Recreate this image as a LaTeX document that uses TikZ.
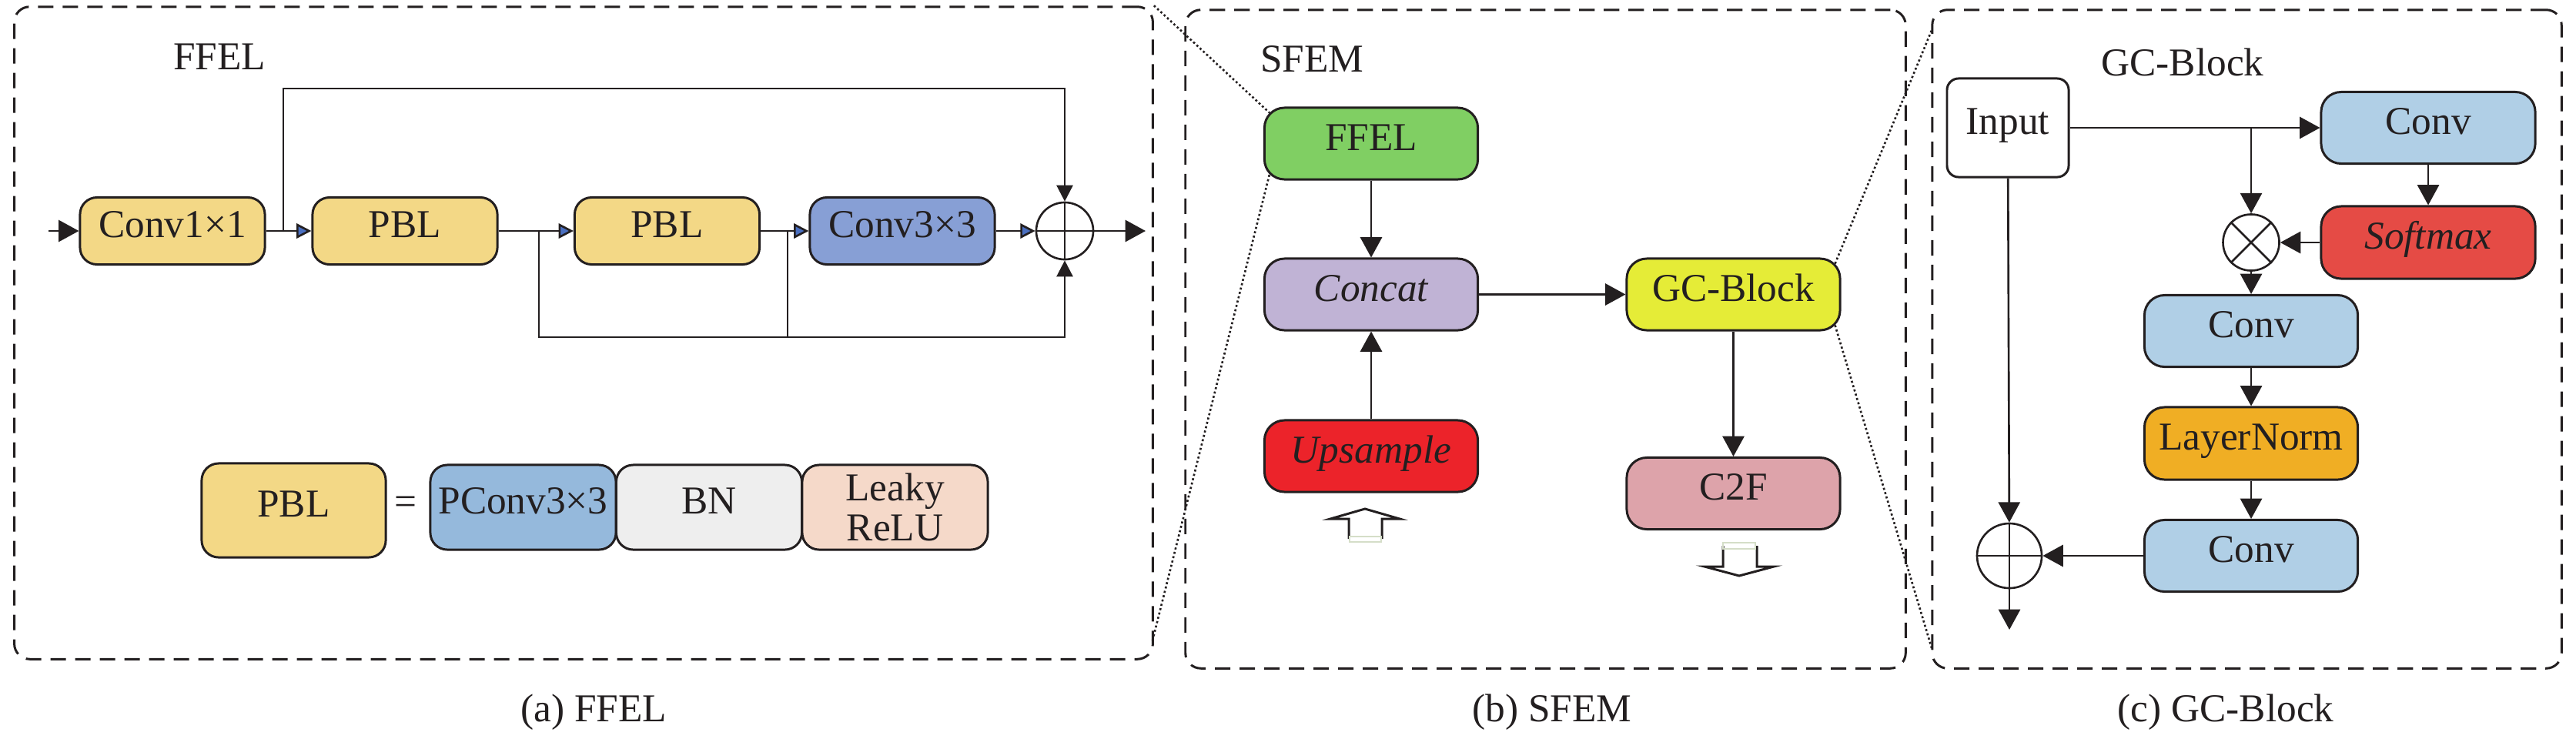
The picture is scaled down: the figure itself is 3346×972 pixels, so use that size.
\documentclass[tikz,border=0pt]{standalone}
\usepackage{fontspec}
\setmainfont{Liberation Serif}
\usetikzlibrary{arrows.meta,calc}
\definecolor{cyel}{HTML}{F3D886}
\definecolor{cblue}{HTML}{879FD5}
\definecolor{cpconv}{HTML}{95B9DC}
\definecolor{cbn}{HTML}{EEEEEE}
\definecolor{crelu}{HTML}{F5D9C9}
\definecolor{cgreen}{HTML}{80CF63}
\definecolor{cconcat}{HTML}{C0B3D5}
\definecolor{cups}{HTML}{EC232A}
\definecolor{cgc}{HTML}{E5EC37}
\definecolor{cctwof}{HTML}{DDA3AA}
\definecolor{cconv}{HTML}{B0CFE6}
\definecolor{csoft}{HTML}{E54B45}
\definecolor{cln}{HTML}{F0AE24}
\definecolor{carr}{HTML}{4A6FC0}
\definecolor{cpale}{HTML}{D5DEC8}
\definecolor{cline}{HTML}{231F20}
\begin{document}
\begin{tikzpicture}[x=0.01cm,y=-0.01cm,
  every node/.style={font=\fontsize{14.6pt}{15pt}\selectfont, text=cline},
  base/.style={draw=cline, line width=0.85pt, inner sep=0pt, align=center},
  tc/.style={text height=0.72em, text depth=0.22em},
  blk/.style={base, tc, rounded corners=0.26cm, minimum width=2.77cm, minimum height=0.93cm},
  ablk/.style={base, tc, rounded corners=0.22cm, minimum width=2.40cm, minimum height=0.87cm},
  lblk/.style={base, rounded corners=0.22cm, minimum width=2.41cm, minimum height=1.10cm},
  panel/.style={draw=cline, line width=0.85pt, dash pattern=on 5.7pt off 3.4pt, rounded corners=0.2cm, inner sep=0pt},
  con/.style={draw=cline, line width=0.75pt},
  arr/.style={con, -{Triangle[width=8pt,length=7.5pt]}},
  sarr/.style={con, -{Triangle[width=6pt,length=6pt]}},
  barr/.style={con, -{Triangle[width=5.5pt,length=5.5pt,fill=carr]}},
  dotl/.style={draw=cline, line width=0.75pt, dash pattern=on 0.75pt off 0.9pt},
  opc/.style={circle, draw=cline, line width=0.75pt, inner sep=0pt},
  hollow/.style={draw=cline, line width=0.85pt},
]
\useasboundingbox (0,0) rectangle (3346,972);

% panels
\node[panel, minimum width=14.78cm, minimum height=8.47cm] (pa) at (758,432.5) {};
\node[panel, minimum width=9.35cm, minimum height=8.55cm] (pb) at (2007.5,440.5) {};
\node[panel, minimum width=8.17cm, minimum height=8.55cm] (pc) at (2918.5,440.5) {};

% ---------- (a) FFEL ----------
\node[anchor=base west] (tffel) at (213,90) {FFEL};
\node[ablk, fill=cyel] (c11) at (224,300) {Conv1×1};
\node[ablk, fill=cyel] (pbl1) at (526,300) {PBL};
\node[ablk, fill=cyel] (pbl2) at (866.5,300) {PBL};
\node[ablk, fill=cblue] (c33) at (1172,300) {Conv3×3};
\node[opc, minimum size=0.74cm] (sum) at (1383,300) {};
\draw[con] (sum.north) -- (sum.south);
\draw[con] (sum.west) -- (sum.east);
\coordinate (ina) at (63,300);
\coordinate (outa) at (1488,300);
\draw[arr] (ina) -- (c11);
\draw[arr] (sum.east) -- (outa);
\draw[barr] (c11) -- (pbl1);
\draw[barr] (pbl1) -- (pbl2);
\draw[barr] (pbl2) -- (c33);
\draw[barr] (c33) -- (sum);
\coordinate (b1) at (368,300);
\coordinate (b2) at (368,115);
\draw[sarr] (b1) -- (b2) -| (sum.north);
\coordinate (s1) at (700,300);
\coordinate (s2) at (700,438);
\coordinate (s3) at (1023,300);
\coordinate (s4) at (1023,438);
\draw[sarr] (s1) -- (s2) -| (sum.south);
\draw[con] (s3) -- (s4);

% legend
\node[lblk, fill=cyel, minimum width=2.39cm, minimum height=1.22cm, tc] (lpbl) at (381.5,663) {PBL};
\node (eq) at (527,657) {=};
\node[lblk, fill=cpconv, tc] (lpc) at (679.5,659) {PConv3×3};
\node[lblk, fill=cbn, tc] (lbn) at (921,659) {BN};
\node[lblk, fill=crelu] (llr) at (1162.5,659) {Leaky\\ReLU};
\node[anchor=base] (capa) at (771,937) {(a) FFEL};

% ---------- (b) SFEM ----------
\node[anchor=base west] (tsfem) at (1625,93) {SFEM};
\node[blk, fill=cgreen] (ffel) at (1781,186.5) {FFEL};
\node[blk, fill=cconcat] (concat) at (1781,382.5) {\itshape Concat};
\node[blk, fill=cups] (ups) at (1781,592.5) {\itshape Upsample};
\node[blk, fill=cgc] (gcb) at (2251.5,382.5) {GC-Block};
\node[blk, fill=cctwof] (c2f) at (2251.5,641) {C2F};
\draw[arr] (ffel) -- (concat);
\draw[arr] (ups) -- (concat);
\draw[arr] (concat) -- (gcb);
\draw[arr] (gcb) -- (c2f);
% hollow block arrows
\draw[hollow, line join=miter] (1752,700) -- (1752,674) -- (1728,674) -- (1773,661) -- (1818,674) -- (1795,674) -- (1795,700);
\draw[cpale, line width=0.6pt] (1753,697) rectangle (1794,704);
\draw[hollow, line join=miter] (2238,709) -- (2238,736) -- (2214,736) -- (2259,748) -- (2304,736) -- (2282,736) -- (2282,709);
\draw[cpale, line width=0.6pt] (2238,705) rectangle (2280,713);
\node[anchor=base] (capb) at (2016,937) {(b) SFEM};

% ---------- (c) GC-Block ----------
\node[anchor=base west] (tgc) at (2717,98) {GC-Block};
\node[blk, fill=white, rounded corners=0.15cm, minimum width=1.58cm, minimum height=1.28cm] (inp) at (2608,166) {Input};
\node[blk, fill=cconv, minimum width=2.78cm] (conv1) at (3154,166) {Conv};
\node[blk, fill=csoft, minimum width=2.78cm, minimum height=0.94cm] (soft) at (3154,315) {\itshape Softmax};
\node[opc, minimum size=0.73cm] (mul) at (2924,315) {};
\draw[con] (mul.north west) -- (mul.south east);
\draw[con] (mul.north east) -- (mul.south west);
\node[blk, fill=cconv] (conv2) at (2924,430) {Conv};
\node[blk, fill=cln, minimum height=0.94cm] (ln) at (2924,576) {LayerNorm};
\node[blk, fill=cconv] (conv3) at (2924,722) {Conv};
\node[opc, minimum size=0.84cm] (add) at (2610,722) {};
\draw[con] (add.north) -- (add.south);
\draw[con] (add.west) -- (add.east);
\coordinate (br) at (2924,166);
\coordinate (outc) at (2610,818);
\draw[arr] (inp) -- (conv1);
\draw[arr] (br) -- (mul);
\draw[arr] (conv1) -- (soft);
\draw[arr] (soft) -- (mul);
\draw[arr] (mul) -- (conv2);
\draw[arr] (conv2) -- (ln);
\draw[arr] (ln) -- (conv3);
\draw[arr] (conv3) -- (add);
\draw[arr] (inp) -- (add);
\draw[arr] (add) -- (outc);
\node[anchor=base] (capc) at (2891,937) {(c) GC-Block};

% dotted zoom lines
\coordinate (pa2) at (1497,832);
\coordinate (pc1) at (2510,37);
\coordinate (pc2) at (2510,845);
\draw[dotl] (pa.north east) -- ($(ffel.north west)+(8,8)$);
\draw[dotl] (pa2) -- ($(ffel.south west)+(8,-8)$);
\draw[dotl] ($(gcb.north east)+(-8,8)$) -- (pc1);
\draw[dotl] ($(gcb.south east)+(-8,-8)$) -- (pc2);
\end{tikzpicture}
\end{document}
